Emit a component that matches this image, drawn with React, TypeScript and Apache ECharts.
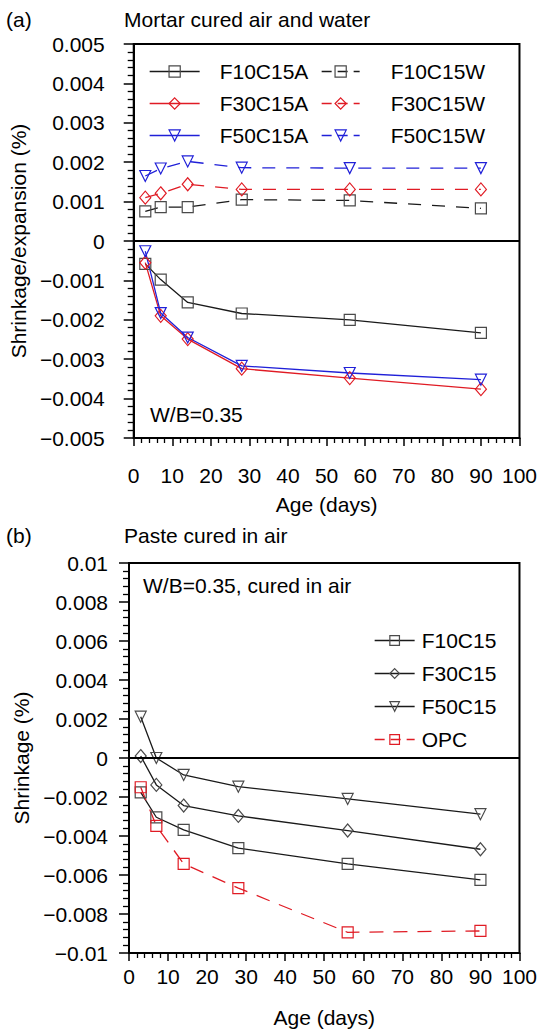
import React, { useEffect, useRef } from "react";
import * as echarts from "echarts";

// ---- data ----
const days = [3, 7, 14, 28, 56, 90];

// (a) mortar, cured in air (A) and water (W)
const F10C15A = [-0.00058, -0.00098, -0.00156, -0.00184, -0.002, -0.00233];
const F30C15A = [-0.00055, -0.0019, -0.00249, -0.00324, -0.00348, -0.00376];
const F50C15A = [-0.00026, -0.00183, -0.00245, -0.00317, -0.00335, -0.00352];
const F10C15W = [0.00075, 0.00086, 0.00086, 0.00105, 0.00103, 0.00083];
const F30C15W = [0.0011, 0.00121, 0.00144, 0.00131, 0.00131, 0.00131];
const F50C15W = [0.00165, 0.00184, 0.00202, 0.00186, 0.00185, 0.00185];

// (b) paste cured in air
const F10C15 = [-0.00176, -0.00304, -0.00369, -0.00462, -0.00543, -0.00625];
const F30C15 = [0.0001, -0.00138, -0.00244, -0.00297, -0.00372, -0.00468];
const F50C15 = [0.00212, 0.0, -0.00087, -0.00147, -0.0021, -0.00288];
const OPC = [-0.0015, -0.00348, -0.00543, -0.00667, -0.00894, -0.00887];

const xTicks = { min: 0, max: 100, interval: 10 };
const yTicksA = { min: -0.005, max: 0.005, interval: 0.001 };
const yTicksB = { min: -0.01, max: 0.01, interval: 0.002 };

const FONT = "Liberation Sans, Arial, Helvetica, sans-serif";
const BLACK = "#1a1a1a";
const MARK = "#4a4a4a";
const RED = "#e01b24";
const BLUE = "#2020d8";

const zip = (ys: number[]) => days.map((d, i) => [d, ys[i]]);

const fmtY = (v: number) => {
  if (Math.abs(v) < 1e-12) return "0";
  return parseFloat(v.toFixed(4)).toString().replace("-", "\u2212");
};

function mk(
  name: string,
  ys: number[],
  grid: number,
  color: string,
  markColor: string,
  symbol: string,
  dash: any,
  extra: any = {}
) {
  return {
    type: "line",
    name,
    xAxisIndex: grid,
    yAxisIndex: grid,
    data: zip(ys),
    symbol,
    symbolSize: symbol === "diamond" ? [11, 13] : 11,
    symbolRotate: symbol === "triangle" ? 180 : 0,
    lineStyle: { color, width: 1.3, type: dash || "solid" },
    itemStyle: { color: "rgba(255,255,255,0)", borderColor: markColor, borderWidth: 1.2 },
    emphasis: { disabled: true },
    z: 3,
    ...extra,
  };
}

const zeroLine = {
  silent: true,
  symbol: "none",
  label: { show: false },
  lineStyle: { color: "#000", width: 2, type: "solid" },
  data: [{ yAxis: 0 }],
};

function xAxis(gridIndex: number, labelMargin: number, nameGap: number) {
  return {
    type: "value",
    gridIndex,
    ...xTicks,
    name: "Age (days)",
    nameLocation: "middle",
    nameGap,
    nameTextStyle: { fontSize: 21, color: "#000", fontFamily: FONT },
    axisLine: { show: true, onZero: false, lineStyle: { color: "#000", width: 2 } },
    axisTick: { show: true, length: 8, lineStyle: { color: "#000", width: 1.5 } },
    minorTick: { show: true, splitNumber: 5, length: 5, lineStyle: { color: "#000", width: 1.3 } },
    axisLabel: { fontSize: 21, color: "#000", fontFamily: FONT, margin: labelMargin },
    splitLine: { show: false },
  };
}

function yAxis(gridIndex: number, ticks: any, name: string, labelMargin: number) {
  return {
    type: "value",
    gridIndex,
    ...ticks,
    name,
    nameLocation: "middle",
    nameGap: 96,
    nameTextStyle: { fontSize: 21, color: "#000", fontFamily: FONT },
    axisLine: { show: true, onZero: false, lineStyle: { color: "#000", width: 2 } },
    axisTick: { show: true, length: 10, lineStyle: { color: "#000", width: 1.5 } },
    minorTick: { show: true, splitNumber: 5, length: 6, lineStyle: { color: "#000", width: 1.3 } },
    axisLabel: { fontSize: 21, color: "#000", fontFamily: FONT, margin: labelMargin, formatter: fmtY },
    splitLine: { show: false },
  };
}

const legendText = (pad: number) => ({
  fontSize: 21,
  color: "#000",
  fontFamily: FONT,
  lineHeight: 21,
  padding: [0, 0, 0, pad],
});

const LEG_DASH = [10, 6];
const SER_DASH = [13, 11];
const OPC_DASH = [14, 10];

const txt = (x: number, y: number, text: string) => ({
  type: "text",
  x,
  y,
  style: { text, fontSize: 21, fill: "#000", font: `21px ${FONT}`, verticalAlign: "middle" },
});

export default function App() {
  const ref = useRef<HTMLDivElement>(null);
  useEffect(() => {
    if (!ref.current) return;
    const chart = echarts.init(ref.current, null, { renderer: "svg" });
    chart.setOption({
      animation: false,
      backgroundColor: "#fff",
      grid: [
        { left: 129, right: 20, top: 44, height: 394, show: true, borderColor: "#000", borderWidth: 2, backgroundColor: "transparent" },
        { left: 129, right: 20, top: 563, height: 390, show: true, borderColor: "#000", borderWidth: 2, backgroundColor: "transparent" },
      ],
      xAxis: [xAxis(0, 27, 56), xAxis(1, 13, 54)],
      yAxis: [
        yAxis(0, yTicksA, "Shrinkage/expansion (%)", 29),
        yAxis(1, yTicksB, "Shrinkage (%)", 21),
      ],
      legend: [
        {
          orient: "vertical",
          left: 149,
          top: 61,
          padding: 0,
          itemWidth: 50,
          itemHeight: 14,
          itemGap: 11,
          itemStyle: { borderWidth: 1.2 },
          lineStyle: { width: 1.3, type: "solid" },
          textStyle: legendText(15),
          data: ["F10C15A", "F30C15A", "F50C15A"],
          selectedMode: false,
        },
        {
          orient: "vertical",
          left: 321,
          top: 61,
          padding: 0,
          itemWidth: 38,
          itemHeight: 14,
          itemGap: 11,
          itemStyle: { borderWidth: 1.2 },
          lineStyle: { width: 1.3, type: LEG_DASH },
          textStyle: legendText(26),
          data: ["F10C15W", "F30C15W", "F50C15W"],
          selectedMode: false,
        },
        {
          orient: "vertical",
          left: 374,
          top: 630,
          padding: 0,
          itemWidth: 40,
          itemHeight: 12,
          itemGap: 12,
          itemStyle: { borderWidth: 1.2 },
          lineStyle: { width: 1.3, type: "solid" },
          textStyle: legendText(2),
          data: [
            "F10C15",
            "F30C15",
            "F50C15",
            { name: "OPC", lineStyle: { type: LEG_DASH, width: 1.3 } },
          ],
          selectedMode: false,
        },
      ],
      graphic: [
        txt(6, 19, "(a)"),
        txt(124, 19, "Mortar cured air and water"),
        txt(150, 414, "W/B=0.35"),
        txt(6, 535, "(b)"),
        txt(124, 535, "Paste cured in air"),
        txt(143, 585, "W/B=0.35, cured in air"),
      ],
      series: [
        mk("F10C15A", F10C15A, 0, BLACK, MARK, "rect", null, { markLine: zeroLine }),
        mk("F30C15A", F30C15A, 0, RED, RED, "diamond", null),
        mk("F50C15A", F50C15A, 0, BLUE, BLUE, "triangle", null),
        mk("F10C15W", F10C15W, 0, BLACK, MARK, "rect", SER_DASH),
        mk("F30C15W", F30C15W, 0, RED, RED, "diamond", SER_DASH),
        mk("F50C15W", F50C15W, 0, BLUE, BLUE, "triangle", SER_DASH),
        mk("F10C15", F10C15, 1, BLACK, MARK, "rect", null, { markLine: zeroLine }),
        mk("F30C15", F30C15, 1, BLACK, MARK, "diamond", null),
        mk("F50C15", F50C15, 1, BLACK, MARK, "triangle", null),
        mk("OPC", OPC, 1, RED, RED, "rect", OPC_DASH),
      ],
    });
    return () => chart.dispose();
  }, []);
  return (
    <div
      ref={ref}
      style={{ position: "absolute", left: 0, top: 0, width: 540, height: 1030, background: "#fff" }}
    />
  );
}
